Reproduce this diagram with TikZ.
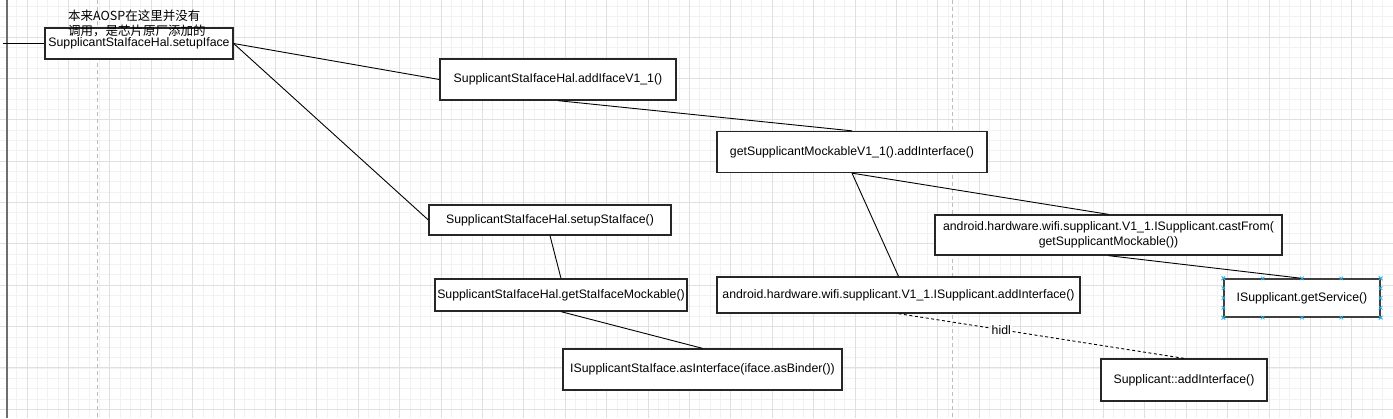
\documentclass[tikz,border=0pt]{standalone}
\usepackage{fontspec}
\setmainfont{Liberation Sans}
\newfontfamily\notecjk{Noto Sans CJK SC}
\usepackage{tikz}
\usetikzlibrary{calc}
\definecolor{gridminor}{HTML}{F2F2F2}
\definecolor{gridmajor}{HTML}{E0E0E0}
\definecolor{pagebreak}{HTML}{BDBDBD}
\definecolor{railgray}{HTML}{6E6E6E}
\definecolor{handleblue}{HTML}{29B6F2}

\begin{document}
\begin{tikzpicture}[x=1pt,y=-1pt,
  callbox/.style={rectangle,draw=black!85,fill=white,line width=1.3pt,inner sep=0pt,
    font=\fontsize{12.3}{15}\selectfont,align=center},
  link/.style={draw=black,line width=0.9pt},
  hidllink/.style={link,dash pattern=on 3pt off 2.5pt},
  handle/.style={draw=handleblue,line width=0.7pt}]
\fill[white] (0,0) rectangle (1393,418);
\useasboundingbox (0,0) rectangle (1393,418);
% grid
\foreach \k in {-2,...,132} \draw[gridminor,line width=0.8pt] ({27+10.35*\k},0) -- ++(0,418);
\foreach \k in {1,...,41} \draw[gridminor,line width=0.8pt] (0,{-4.3+10.34*\k}) -- ++(1393,0);
\foreach \k in {0,...,33} \draw[gridmajor,line width=0.8pt] ({27+41.4*\k},0) -- ++(0,418);
\foreach \k in {1,...,10} \draw[gridmajor,line width=0.8pt] (0,{-4.3+41.35*\k}) -- ++(1393,0);
\draw[pagebreak,line width=0.8pt,dash pattern=on 4pt off 3pt] (97,0) -- (97,418) (952,0) -- (952,418);
\draw[railgray,line width=2pt] (6.5,0) -- (6.5,418);

\node[callbox,minimum width=188pt,minimum height=31pt] (setup) at (139,43.5) {SupplicantStaIfaceHal.setupIface};
\node[callbox,minimum width=236pt,minimum height=41pt] (addv) at (558,79.5) {SupplicantStaIfaceHal.addIfaceV1\_1()};
\node[callbox,minimum width=270pt,minimum height=41pt] (mock) at (852,152) {getSupplicantMockableV1\_1().addInterface()};
\node[callbox,minimum width=347pt,minimum height=40pt] (cast) at (1108.5,235) {android.hardware.wifi.supplicant.V1\_1.ISupplicant.castFrom(\\getSupplicantMockable())};
\node[callbox,minimum width=156pt,minimum height=38pt,draw=black!75] (getsvc) at (1302,298) {ISupplicant.getService()};
\node[callbox,minimum width=363pt,minimum height=36pt] (hwadd) at (898.5,295) {android.hardware.wifi.supplicant.V1\_1.ISupplicant.addInterface()};
\node[callbox,minimum width=242pt,minimum height=30pt] (setsta) at (550,220) {SupplicantStaIfaceHal.setupStaIface()};
\node[callbox,minimum width=252pt,minimum height=32pt] (getsta) at (561,295) {SupplicantStaIfaceHal.getStaIfaceMockable()};
\node[callbox,minimum width=279pt,minimum height=41pt] (asif) at (702.5,369.5) {ISupplicantStaIface.asInterface(iface.asBinder())};
\node[callbox,minimum width=166pt,minimum height=42pt] (supp) at (1184,380) {Supplicant::addInterface()};

\node[anchor=north west,align=left,inner sep=0pt,font=\notecjk\fontsize{12.5}{15}\selectfont] (note) at (68,9.5) {本来AOSP在这里并没有\\调用，是芯片原厂添加的};

\coordinate (entry) at (3,43.5);
\draw[link] (entry) -- (setup.west);
\draw[link] (setup.east) -- (addv.west);
\draw[link] (setup.east) -- (setsta.west);
\draw[link] (addv.south) -- (mock.north);
\draw[link] (mock.south) -- (cast.north);
\draw[link] (mock.south) -- (hwadd.north);
\draw[link] (cast.south) -- (getsvc.north);
\draw[link] (setsta.south) -- (getsta.north);
\draw[link] (getsta.south) -- (asif.north);
\draw[hidllink] (hwadd.south) -- node[pos=0.36,fill=white,inner sep=1pt,font=\fontsize{12.3}{15}\selectfont] (hidl) {hidl} (supp.north);

% selection handles
\foreach \f in {0,0.25,0.5,0.75,1}
  \foreach \a/\b in {north west/north east,south west/south east,north west/south west,north east/south east}{
    \coordinate (h) at ($(getsvc.\a)!\f!(getsvc.\b)$);
    \draw[handle] ($(h)+(-1.8,-1.8)$) -- ($(h)+(1.8,1.8)$) ($(h)+(-1.8,1.8)$) -- ($(h)+(1.8,-1.8)$);
  }
\end{tikzpicture}
\end{document}
